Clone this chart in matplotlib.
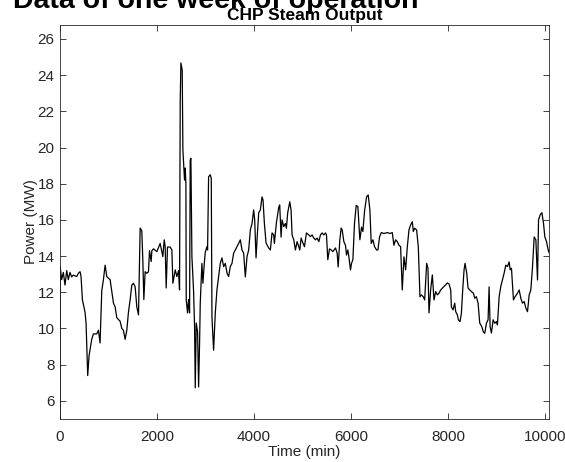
import matplotlib
matplotlib.use("Agg")
from matplotlib import pyplot as plt

plt.rcParams['font.family'] = ['Liberation Sans', 'DejaVu Sans']

# CHP steam output over one week
time_min = [0, 5, 34, 69, 103, 138, 172, 206, 241, 275, 344, 379, 413, 434, 461, 516, 537,
            571, 599, 654, 688, 757, 792, 826, 861, 895, 930, 964, 998, 1033, 1102, 1136,
            1170, 1205, 1239, 1274, 1308, 1342, 1377, 1411, 1446, 1480, 1514, 1549, 1583,
            1618, 1652, 1686, 1707, 1728, 1755, 1790, 1824, 1845, 1879, 1893,
            1927, 1996, 2065, 2120, 2148, 2168, 2189, 2216, 2271, 2306, 2327, 2375, 2409,
            2444, 2464, 2478, 2492, 2519, 2533, 2567, 2581, 2595, 2602, 2629, 2650, 2671,
            2684, 2698, 2719, 2740, 2753, 2774, 2788, 2808, 2836, 2857, 2877, 2891, 2925,
            2946, 2974, 2994, 3029, 3042, 3063, 3097, 3118, 3132, 3166, 3201, 3235, 3304,
            3338, 3373, 3407, 3442, 3476, 3510, 3545, 3579, 3614, 3648, 3682, 3717, 3751,
            3786, 3820, 3855, 3889, 3924, 3958, 3992, 4013, 4041, 4061, 4096, 4130, 4164,
            4185, 4213, 4247, 4302, 4336, 4371, 4405, 4419, 4460, 4509, 4529, 4557, 4577,
            4612, 4646, 4667, 4694, 4736, 4763, 4784, 4818, 4853, 4887, 4922, 4942, 4970,
            5011, 5039, 5080, 5128, 5162, 5197, 5231, 5266, 5300, 5335, 5369, 5403, 5438,
            5472, 5493, 5520, 5555, 5589, 5624, 5679, 5713, 5734, 5768, 5796, 5816, 5851,
            5885, 5906, 5933, 5954, 5988, 6009, 6037, 6071, 6106, 6140, 6181, 6216, 6243,
            6278, 6319, 6353, 6388, 6415, 6450, 6484, 6525, 6553, 6587, 6622, 6677, 6746,
            6801, 6849, 6883, 6918, 6952, 6987, 7021,
            7055, 7090, 7124, 7159, 7193, 7227, 7262, 7283, 7310, 7351, 7386, 7420, 7448,
            7489, 7517, 7558, 7585, 7606, 7640, 7675, 7709, 7744, 7778, 7813, 7847, 7881,
            7916, 7950, 7985, 8019, 8054, 8067, 8102, 8136, 8157, 8191, 8212, 8246, 8274,
            8301, 8329, 8349, 8384, 8411, 8446, 8480, 8522, 8549, 8583, 8618, 8652, 8694,
            8728, 8756, 8790, 8824, 8845, 8866, 8893, 8928, 8962, 8996, 9017, 9052, 9086,
            9120, 9155, 9189, 9224, 9258, 9279, 9306, 9347, 9382, 9430, 9465, 9499, 9533,
            9568, 9602, 9637, 9671, 9705, 9740, 9774, 9809, 9843, 9864, 9898, 9933, 9967,
            9994, 10029, 10063, 10080]
power_mw = [0.0, 13.4, 12.7, 13.1, 12.4, 13.2, 12.7, 13.1, 12.85, 12.95, 12.87, 13.05, 13.14,
            12.87, 11.6, 10.9, 10.3, 7.4, 8.5, 9.4, 9.7, 9.7, 9.9, 9.2, 12.1, 12.7, 13.5,
            12.87, 12.78, 12.7, 11.4, 11.2, 10.6, 10.5, 10.4, 10.0, 9.9, 9.4, 9.9, 10.9,
            11.6, 12.4, 12.5, 12.3, 11.2, 10.75, 15.55, 15.4, 13.8, 11.6, 13.14, 13.05,
            13.14, 14.3, 13.7, 14.3,
            14.4, 14.25, 14.7, 13.97, 14.9, 14.52, 12.24, 14.5, 14.5, 14.34, 12.5, 13.24,
            12.87, 13.2, 12.13, 22.6, 24.67, 24.29, 19.87, 18.2, 18.87, 18.0, 11.58, 10.86,
            11.6, 10.86, 19.3, 19.4, 13.96, 12.85, 12.1, 10.1, 6.72, 10.3, 9.8, 6.77, 9.2,
            11.4, 13.6, 12.5, 13.6, 14.2, 14.52, 14.34, 18.38, 18.5, 18.3, 10.64, 8.8,
            10.86, 12.13, 13.6, 13.9, 13.42, 13.6, 13.07, 12.87, 13.42, 13.6, 14.16, 14.34,
            14.52, 14.7, 14.9, 14.34, 14.16, 12.85, 13.97, 14.34, 15.45, 15.8, 16.55, 16.0,
            13.9, 14.9, 16.4, 16.55, 17.27, 17.1, 15.8, 14.73, 14.45, 14.34, 15.28, 15.17,
            14.7, 15.83, 16.7, 16.83, 15.05, 16.0, 15.63, 15.8, 15.54, 16.4, 17.0, 16.55,
            15.17, 14.9, 14.34, 14.8, 14.52, 14.34, 15.0, 14.7, 14.52, 15.28, 15.17, 15.08,
            15.17, 15.0, 14.9, 15.0, 14.8, 15.17, 15.28, 15.17, 15.28, 15.17, 13.8, 14.4,
            14.34, 14.25, 14.45, 14.16, 13.4, 14.9, 15.55, 15.45, 14.8, 14.6, 14.06, 14.34,
            13.97, 13.24, 13.6, 13.8, 15.83, 16.8, 16.74, 14.9, 15.6, 15.36, 16.5, 17.27,
            17.38, 16.55, 14.7, 14.9, 14.52, 14.34, 14.34, 15.06, 15.3, 15.25, 15.3, 15.25,
            15.3, 14.6, 14.9, 14.8, 14.6, 14.52,
            12.13, 13.96, 13.24, 14.5, 15.45, 15.72, 15.9, 15.36, 15.54, 15.45, 14.5, 11.75,
            11.86, 11.75, 11.58, 13.6, 13.33, 10.86, 12.13, 12.96, 11.58, 12.04, 11.86,
            11.95, 12.13, 12.23, 12.32, 12.41, 12.52, 12.46, 12.13, 11.2, 11.03, 11.4,
            10.93, 10.75, 10.48, 10.38, 10.84, 12.13, 13.24, 13.6, 13.06, 12.24, 12.13,
            12.04, 11.95, 11.67, 11.76, 11.4, 10.3, 10.1, 9.8, 9.74, 10.29, 10.48, 12.3,
            10.1, 9.75, 10.48, 10.29, 10.38, 10.2, 11.75, 12.32, 12.68, 13.06, 13.5, 13.42,
            13.68, 13.24, 13.33, 11.58, 11.76, 11.95, 12.13, 11.67, 11.4, 11.49, 11.14,
            10.93, 11.86, 12.13, 13.4, 15.06, 14.9, 12.68, 16.0, 16.28, 16.4, 15.8, 15.06,
            14.8, 14.34, 14.2]

x_ticks = [0, 2000, 4000, 6000, 8000, 10000]
y_ticks = [6, 8, 10, 12, 14, 16, 18, 20, 22, 24, 26]

axis_col = '#262626'

fig = plt.figure(figsize=(5.65, 4.62), dpi=100)
ax = fig.add_axes([0.1062, 0.0931, 0.8655, 0.8528])

ax.plot(time_min, power_mw, color='black', lw=0.9)

ax.set_xlim(0, 10080)
ax.set_ylim(5, 26.77)
ax.set_xticks(x_ticks)
ax.set_yticks(y_ticks)

for sp in ax.spines.values():
    sp.set_color(axis_col)
    sp.set_linewidth(0.6)
ax.tick_params(direction='in', top=True, right=True, length=4, width=0.6,
               color=axis_col, labelcolor=axis_col, labelsize=11)
ax.tick_params(axis='x', pad=8)
ax.tick_params(axis='y', pad=4)

ax.set_xlabel('Time (min)', fontsize=11, color=axis_col, labelpad=1)
ax.set_ylabel('Power (MW)', fontsize=11, color=axis_col, labelpad=-0.5)
ax.set_title('CHP Steam Output', fontsize=12.5, fontweight='bold', pad=3.5)

# big heading sits half off the top edge, as in the reference
fig.text(13 / 565, 1 - 8 / 462, 'Data of one week of operation', fontsize=20.5,
         fontweight='bold', ha='left', va='baseline')

fig.savefig('out.png', dpi=100)
